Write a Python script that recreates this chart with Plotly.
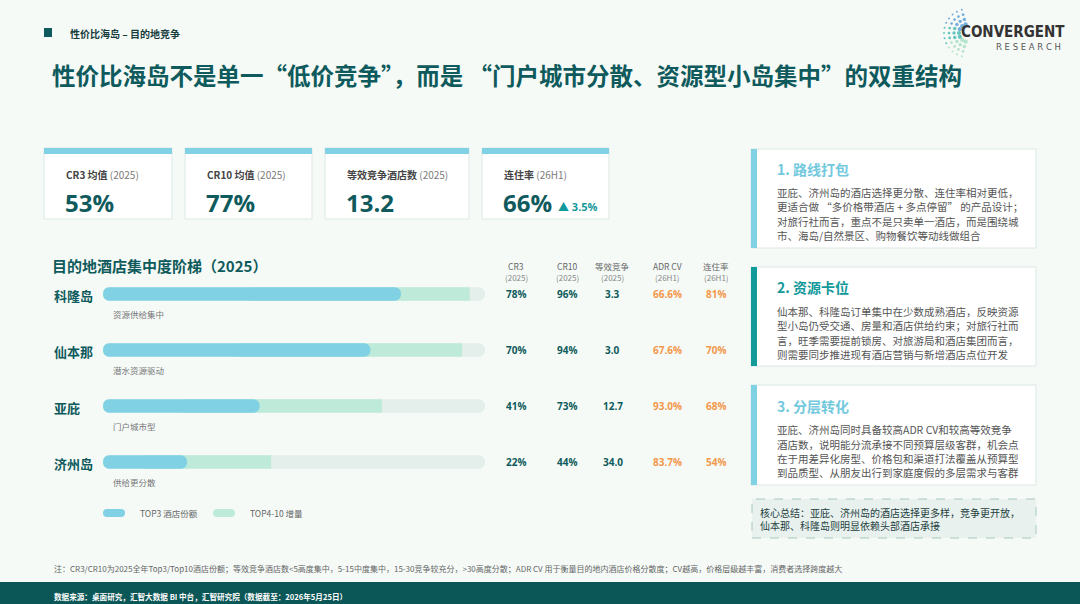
import math
import plotly.graph_objects as go

# ---- data ----
cities = ["科隆岛", "仙本那", "亚庇", "济州岛"]
city_types = ["资源供给集中", "潜水资源驱动", "门户城市型", "供给更分散"]
cr3 = [78, 70, 41, 22]
cr10 = [96, 94, 73, 44]
eff_hotels = [3.3, 3.0, 12.7, 34.0]
adr_cv = [66.6, 67.6, 93.0, 83.7]
stay_rate = [81, 70, 68, 54]
full_scale = [100, 100, 100, 100]

col_heads = ["CR3", "CR10", "等效竞争", "ADR CV", "连住率"]
col_periods = ["(2025)", "(2025)", "(2025)", "(26H1)", "(26H1)"]

kpi_names = ["CR3 均值", "CR10 均值", "等效竞争酒店数", "连住率"]
kpi_periods = ["(2025)", "(2025)", "(2025)", "(26H1)"]
kpi_values = ["53%", "77%", "13.2", "66%"]
kpi_delta = "▲ 3.5%"

legend_names = ["TOP3 酒店份额", "TOP4-10 增量"]

title = "性价比海岛不是单一“低价竞争”，而是 “门户城市分散、资源型小岛集中”的双重结构"
kicker = "性价比海岛 – 目的地竞争"
section = "目的地酒店集中度阶梯（2025）"

cards = [
    ("1. 路线打包", [
        "亚庇、济州岛的酒店选择更分散、连住率相对更低，",
        "更适合做 “多价格带酒店 + 多点停留” 的产品设计；",
        "对旅行社而言，重点不是只卖单一酒店，而是围绕城",
        "市、海岛/自然景区、购物餐饮等动线做组合",
    ]),
    ("2. 资源卡位", [
        "仙本那、科隆岛订单集中在少数成熟酒店，反映资源",
        "型小岛仍受交通、房量和酒店供给约束；对旅行社而",
        "言，旺季需要提前锁房、对旅游局和酒店集团而言，",
        "则需要同步推进现有酒店营销与新增酒店点位开发",
    ]),
    ("3. 分层转化", [
        "亚庇、济州岛同时具备较高ADR CV和较高等效竞争",
        "酒店数，说明能分流承接不同预算层级客群，机会点",
        "在于用差异化房型、价格包和渠道打法覆盖从预算型",
        "到品质型、从朋友出行到家庭度假的多层需求与客群",
    ]),
]
summary = ["核心总结：亚庇、济州岛的酒店选择更多样，竞争更开放，",
           "仙本那、科隆岛则明显依赖头部酒店承接"]

note = ("注：CR3/CR10为2025全年Top3/Top10酒店份额；等效竞争酒店数&lt;5高度集中，5-15中度集中，"
        "15-30竞争较充分，&gt;30高度分散；ADR CV 用于衡量目的地内酒店价格分散度；"
        "CV越高，价格层级越丰富，消费者选择跨度越大")
source = "数据来源：桌面研究，汇智大数据 BI 中台，汇智研究院（数据截至：2026年5月25日）"

# ---- style ----
W, H = 1080, 604
BG = "#F5FAF7"
DARK = "#0F5A5C"
BLUE = "#80D1E3"
GREEN = "#BEEBD9"
TRACK = "#E4EEEA"
ORANGE = "#F3974A"
TEAL = "#12999A"
CJK = "Noto Sans CJK SC"
NUM = "Open Sans, Noto Sans CJK SC"
BAR_W = 0.24


def X(px):
    return px / W


def Y(py):
    return 1 - py / H


shapes = []
ann = []


def text(px, py, s, size, color, bold=False, anchor="left", family=CJK, **kw):
    ann.append(dict(x=X(px), y=Y(py), xref="paper", yref="paper", text=f"<b>{s}</b>" if bold else s,
                    showarrow=False, xanchor=anchor, yanchor="middle",
                    font=dict(size=size, color=color, family=family), **kw))


def rect(x0, y0, x1, y1, fill, line=None, dash=None, width=1):
    shapes.append(dict(type="rect", xref="paper", yref="paper", x0=X(x0), x1=X(x1), y0=Y(y1), y1=Y(y0),
                       fillcolor=fill, line=dict(color=line or fill, width=width if line else 0, dash=dash),
                       layer="below"))


fig = go.Figure()

# concentration bars: grey track, TOP4-10 increment (starts under the blue bar), TOP3 share
zero = [0] * len(cities)
fig.add_trace(go.Bar(orientation="h", y=cities, base=zero, x=full_scale, width=BAR_W,
                     marker=dict(color=TRACK, cornerradius="50%", line_width=0)))
fig.add_trace(go.Bar(orientation="h", y=cities, base=[c / 2 for c in cr3],
                     x=[b - a / 2 for a, b in zip(cr3, cr10)], width=BAR_W,
                     marker=dict(color=GREEN, line_width=0)))
fig.add_trace(go.Bar(orientation="h", y=cities, base=zero, x=cr3, width=BAR_W,
                     marker=dict(color=BLUE, cornerradius="50%", line_width=0)))

# logo dots (decoration)
lx, ly = [], []
lc, ls = [], []
for r, n, sz in [(9, 7, 4.2), (14, 9, 3.4), (19, 11, 2.7), (24, 13, 2.0)]:
    for i in range(n):
        a = math.radians(105 + 150 * i / (n - 1))
        lx.append(968 + r * math.cos(a))
        ly.append(33 - r * math.sin(a))
        t = i / (n - 1)
        lc.append("#3E8FD3" if t < 0.35 else ("#2AAFA6" if t < 0.7 else "#9AD8B8"))
        ls.append(sz)
fig.add_trace(go.Scatter(x=lx, y=ly, mode="markers", xaxis="x2", yaxis="y2",
                         marker=dict(size=ls, color=lc, line_width=0)))

# header
rect(44, 28, 52, 37, DARK)
text(68, 33, kicker, 10, "#173C3C", bold=True)
text(50, 75, title, 23.5, DARK, bold=True)
text(959, 32, "CONVERGENT", 15, "#333333", bold=True, family="DejaVu Sans Condensed, DejaVu Sans")
text(1063, 47, "R E S E A R C H", 8.5, "#555555", anchor="right", family="DejaVu Sans")

# KPI cards
kpi_x = [(44, 172), (185, 312), (325, 469), (482, 609)]
for (x0, x1), name, per, val in zip(kpi_x, kpi_names, kpi_periods, kpi_values):
    rect(x0, 148, x1, 219, "white", line="#DCE8E4")
    rect(x0, 148, x1, 154, BLUE)
    text(x0 + 20, 174, f"<b>{name}</b> <span style='color:#7A7A7A'>{per}</span>", 10, "#444444")
    text(x0 + 19, 202, val, 24, DARK, bold=True, family=NUM)
text(556, 206, kpi_delta, 11, TEAL, bold=True, family=NUM)

# ladder section
text(50, 265, section, 15, DARK, bold=True)
col_x = [516, 567, 613, 667, 716]
for cx, hd, pr in zip(col_x, col_heads, col_periods):
    text(cx, 266, hd, 8.5, "#666666", anchor="center")
    text(cx, 277, pr, 8, "#888888", anchor="center")

for i, c in enumerate(cities):
    ann.append(dict(x=X(52), y=c, xref="paper", yref="y", text=f"<b>{c}</b>", showarrow=False,
                    xanchor="left", yanchor="middle", yshift=-2,
                    font=dict(size=13, color=DARK, family=CJK)))
    ann.append(dict(x=X(111), y=c, xref="paper", yref="y", text=city_types[i], showarrow=False,
                    xanchor="left", yanchor="middle", yshift=-20,
                    font=dict(size=8.5, color="#777777", family=CJK)))
    vals = [f"{cr3[i]}%", f"{cr10[i]}%", f"{eff_hotels[i]:.1f}", f"{adr_cv[i]:.1f}%", f"{stay_rate[i]}%"]
    cols = [DARK, DARK, DARK, ORANGE, ORANGE]
    for cx, v, col in zip(col_x, vals, cols):
        ann.append(dict(x=X(cx), y=c, xref="paper", yref="y", text=f"<b>{v}</b>", showarrow=False,
                        xanchor="center", yanchor="middle",
                        font=dict(size=10, color=col, family=NUM)))

# legend
for (x0, x1, tx), nm, col in zip([(103, 125, 138), (213, 235, 248)], legend_names, [BLUE, GREEN]):
    shapes.append(dict(type="path", xref="paper", yref="paper",
                       path=f"M {X(x0 + 4)},{Y(509)} L {X(x1 - 4)},{Y(509)} "
                            f"Q {X(x1)},{Y(509)} {X(x1)},{Y(513)} Q {X(x1)},{Y(517)} {X(x1 - 4)},{Y(517)} "
                            f"L {X(x0 + 4)},{Y(517)} Q {X(x0)},{Y(517)} {X(x0)},{Y(513)} "
                            f"Q {X(x0)},{Y(509)} {X(x0 + 4)},{Y(509)} Z",
                       fillcolor=col, line_width=0))
    text(tx, 513, nm, 8.5, "#666666")

# right-hand cards
card_y = [(149, 248, 169, [192, 206.5, 221, 235.5]),
          (267, 366, 287, [311, 325.5, 340, 354.5]),
          (385, 485, 406, [429.5, 444, 458.5, 473])]
stripe = [BLUE, TEAL, BLUE]
head_col = ["#72C9DD", TEAL, "#72C9DD"]
for (y0, y1, ty, lys), (hd, lines), sc, hc in zip(card_y, cards, stripe, head_col):
    rect(751, y0, 1036, y1, "white", line="#DCE8E4")
    rect(751, y0, 757, y1, sc)
    text(775, ty, hd, 14, hc, bold=True)
    for yy, ln in zip(lys, lines):
        text(775, yy, ln, 10.5, "#555555")

rect(752, 499, 1036, 538, "#E8F1EE", line="#A9C8C0", dash="dash")
text(758, 512.5, summary[0], 10, "#1F3F3F")
text(758, 525, summary[1], 10, "#1F3F3F")

# footer
text(52, 568, note, 8, "#666666")
rect(0, 582, W, H, "#0B5656")
text(52, 596, source, 7.6, "white", bold=True)

fig.update_layout(
    width=W, height=H, margin=dict(l=0, r=0, t=0, b=0),
    paper_bgcolor=BG, plot_bgcolor="rgba(0,0,0,0)",
    barmode="overlay", showlegend=False, hovermode=False,
    xaxis=dict(domain=[X(103), X(485)], range=[0, 100], visible=False, fixedrange=True),
    yaxis=dict(domain=[Y(490), Y(266)], type="category", categoryorder="array",
               categoryarray=cities, range=[3.5, -0.5], visible=False, fixedrange=True),
    xaxis2=dict(domain=[0, 1], range=[0, W], visible=False, anchor="y2", fixedrange=True),
    yaxis2=dict(domain=[0, 1], range=[H, 0], visible=False, anchor="x2", fixedrange=True),
    shapes=shapes, annotations=ann,
)

fig.write_html("out.html", config={"displayModeBar": False},
               post_script="document.body.style.margin='0';")
